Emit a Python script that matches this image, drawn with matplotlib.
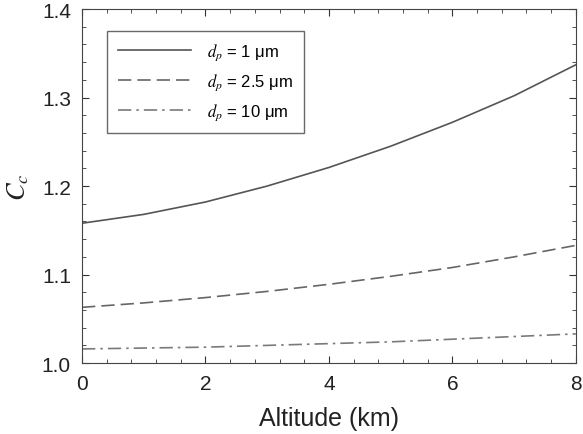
import numpy as np
import matplotlib
matplotlib.use('Agg')
import matplotlib.pyplot as plt
from matplotlib.ticker import MultipleLocator

plt.rcParams['font.family'] = ['Liberation Sans', 'DejaVu Sans']
plt.rcParams['mathtext.fontset'] = 'stix'

# altitude (km) and Cunningham correction factor
altitude = [0, 1, 2, 3, 4, 5, 6, 7, 8]
cc_1um = [1.158, 1.168, 1.182, 1.200, 1.221, 1.245, 1.272, 1.302, 1.337]
cc_2_5um = [1.063, 1.068, 1.074, 1.081, 1.089, 1.098, 1.108, 1.120, 1.133]
cc_10um = [1.016, 1.017, 1.018, 1.020, 1.022, 1.024, 1.027, 1.030, 1.033]
labels = [r'$d_p$ = 1 μm', r'$d_p$ = 2.5 μm', r'$d_p$ = 10 μm']

fig = plt.figure(figsize=(5.83, 4.35), dpi=100)
ax = fig.add_axes([0.1407, 0.163, 0.847, 0.814])

ax.plot(altitude, cc_1um, color='#555555', lw=1.2, ls='-', label=labels[0])
ax.plot(altitude, cc_2_5um, color='#666666', lw=1.2, ls=(0, (8, 3.6)), label=labels[1])
ax.plot(altitude, cc_10um, color='#7a7a7a', lw=1.2, ls=(0, (8, 3, 1.5, 3)), label=labels[2])

ax.set_xlim(0, 8)
ax.set_ylim(1.0, 1.4)
ax.xaxis.set_major_locator(MultipleLocator(2))
ax.xaxis.set_minor_locator(MultipleLocator(0.4))
ax.yaxis.set_major_locator(MultipleLocator(0.1))
ax.yaxis.set_minor_locator(MultipleLocator(0.02))
ax.yaxis.set_major_formatter(plt.FormatStrFormatter('%.1f'))
ax.tick_params(which='both', direction='in', top=True, right=True, colors='#333333', labelcolor='#222222')
ax.tick_params(which='major', length=5, labelsize=15, pad=8)
ax.tick_params(which='minor', length=3)
for s in ax.spines.values():
    s.set_color('#444444')

ax.set_xlabel('Altitude (km)', fontsize=18, color='#222222', labelpad=9)
ax.set_ylabel(r'$C_c$', fontsize=19, color='#222222', labelpad=8)

leg = ax.legend(loc='upper left', bbox_to_anchor=(0.0506, 0.938), borderaxespad=0,
                fontsize=12, frameon=True, fancybox=False, edgecolor='#444444',
                handlelength=4.4, handletextpad=0.95, borderpad=0.65, labelspacing=0.55)
leg.get_frame().set_linewidth(1.0)

fig.savefig('out.png', dpi=100)
